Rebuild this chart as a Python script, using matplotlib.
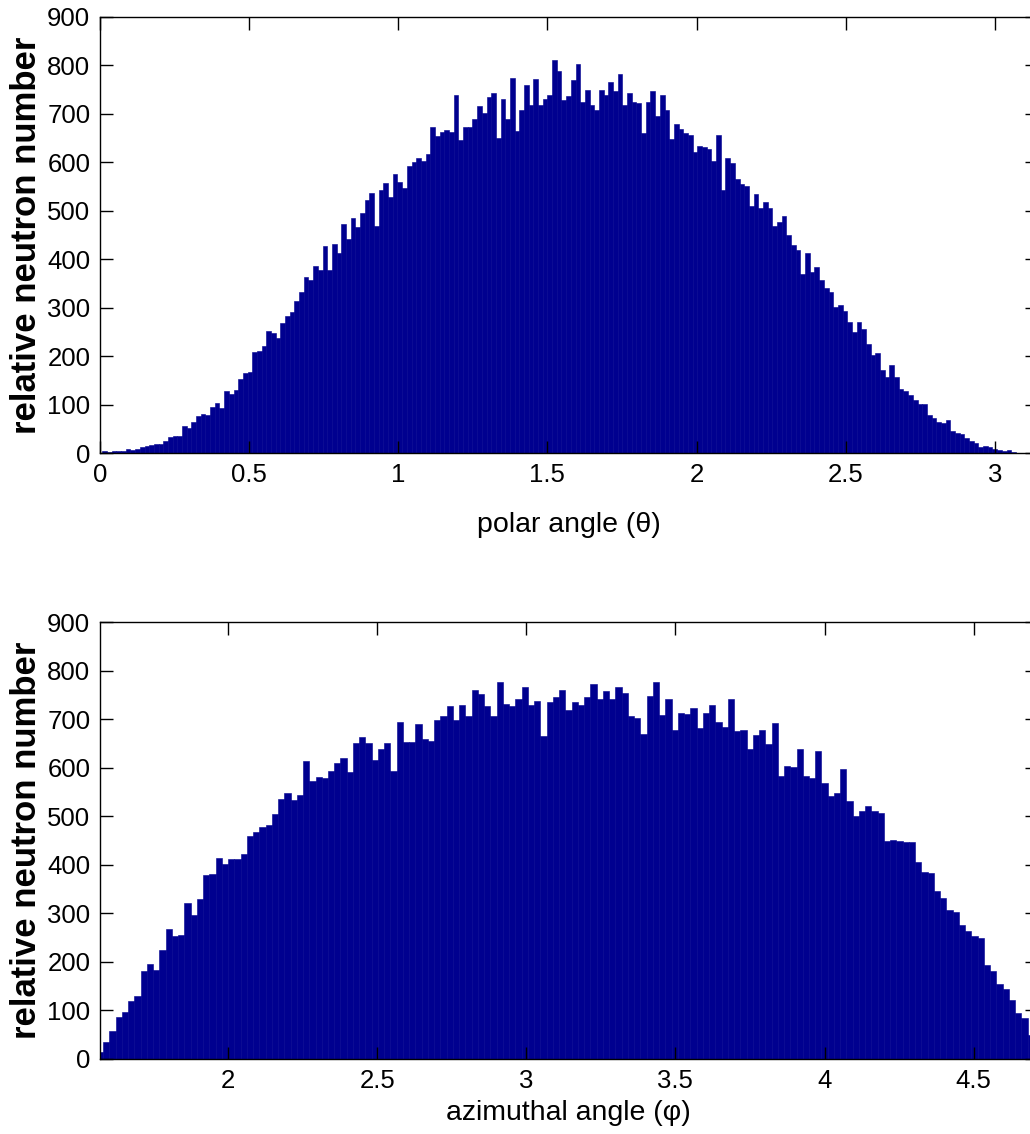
import numpy as np
import matplotlib
matplotlib.use("Agg")
import matplotlib.pyplot as plt
from matplotlib.ticker import FuncFormatter

# Histogram counts, polar angle theta: bins centred at k*pi/200, k = 0..200
theta_counts = [
    1, 4, 2, 4, 4, 5, 8, 6, 8, 12, 15, 16, 18, 18, 25, 34,
    36, 36, 56, 52, 65, 76, 81, 79, 95, 104, 92,
    127, 122, 131, 152, 165, 167, 208, 211, 220, 252, 248, 238, 268, 282, 291, 313, 332,
    363, 358, 386, 377, 427, 377, 432, 413, 473, 442, 486, 467, 496, 522, 537, 468,
    542, 557, 529, 575, 560, 548, 593, 601, 608, 602, 618, 673, 654, 662, 666, 663,
    740, 647, 673, 673, 689, 717, 702, 734, 744, 651, 730,
    690, 775, 665, 709, 759, 718, 773, 718, 730, 740, 811, 788, 728, 737, 769, 804,
    725, 750, 718, 709, 750, 738, 766, 747, 782, 718, 743, 725, 723, 661, 725, 747,
    695, 740, 709, 648, 679, 668, 661, 656, 622,
    633, 632, 628, 603, 656, 542, 609, 599, 566, 555, 551, 509, 535, 506, 518, 506,
    468, 477, 489, 449, 429, 420, 370, 412, 374, 384, 358, 341, 332, 301, 305, 293,
    270, 250, 270, 255, 226, 202, 206, 172, 157, 181, 157, 133,
    127, 119, 110, 102, 102, 78, 73, 65, 61, 69, 45, 41, 40, 31, 24, 21, 12, 14, 12,
    8, 7, 4, 7, 3,
    1, 0, 1, 0, 0,
]

# Histogram counts, azimuthal angle phi: bins centred at pi/2 + k*pi/150, k = 0..150
phi_counts = [
    14, 36, 58, 86, 96, 119, 129, 181, 196, 183, 225, 268, 253, 256, 321, 296, 330,
    378, 382, 413, 402, 411, 411, 423, 459, 468, 478, 481, 505, 535, 548, 533, 544, 613,
    572, 581, 579, 594, 610, 619, 591, 651, 663, 651, 616, 638, 651, 594, 695, 652,
    652, 689, 660, 654, 699, 706, 728, 699, 730, 706, 759, 752, 728, 706, 776, 731,
    726, 741, 767, 730, 738, 665, 735, 746, 759, 719, 735, 730, 746, 773, 742, 757,
    742, 766, 754, 707, 702, 669, 748, 776, 708, 741, 678, 713, 711, 722, 682, 713,
    730, 694, 684, 741, 675, 678, 639, 667, 677, 649, 693, 582, 603, 601, 638, 582,
    579, 635, 568, 541, 548, 597, 531, 501, 510, 522, 510, 507, 448, 452, 450, 447,
    446, 405, 385, 383, 347, 332, 307, 303, 277, 264, 253, 250, 193, 181, 154, 145,
    122, 95, 84, 49, 22,
]

theta_ticks = [0, 0.5, 1, 1.5, 2, 2.5, 3]
phi_ticks = [2, 2.5, 3, 3.5, 4, 4.5]
count_ticks = [0, 100, 200, 300, 400, 500, 600, 700, 800, 900]

BAR = "#00008F"
FONT = "Liberation Sans"

theta_w = np.pi / 200
theta_c = np.arange(len(theta_counts)) * theta_w
phi_w = np.pi / 150
phi_c = np.pi / 2 + np.arange(len(phi_counts)) * phi_w

plt.rcParams["font.family"] = [FONT, "DejaVu Sans"]

W, H = 1030, 1134
fig = plt.figure(figsize=(W / 100, H / 100), dpi=100)


def px_axes(left, top, right, bottom):
    return fig.add_axes([left / W, 1 - bottom / H, (right - left) / W, (bottom - top) / H])


fmt = FuncFormatter(lambda v, p: f"{v:g}")


def style(ax, xlim, xticks, xlabel, xpad):
    ax.set_xlim(*xlim)
    ax.set_ylim(0, 900)
    ax.set_xticks(xticks)
    ax.set_yticks(count_ticks)
    ax.xaxis.set_major_formatter(fmt)
    ax.tick_params(direction="in", length=9, width=1.0, top=True, right=True,
                   labelsize=18.5, colors="black")
    ax.tick_params(axis="y", pad=7)
    ax.tick_params(axis="x", pad=7)
    for s in ax.spines.values():
        s.set_linewidth(1.0)
        s.set_color("black")
    ax.set_xlabel(xlabel, fontsize=20.5, labelpad=xpad)
    ax.set_ylabel("relative neutron number", fontsize=25, fontweight="bold",
                  labelpad=3)


ax1 = px_axes(100, 17, 1037, 453)
ax1.bar(theta_c, theta_counts, width=theta_w, align="center",
        color=BAR, edgecolor=BAR, linewidth=0.4)
style(ax1, (0, np.pi), theta_ticks, "polar angle (\u03b8)", 18)

ax2 = px_axes(100, 622, 1037, 1059)
ax2.bar(phi_c, phi_counts, width=phi_w, align="center",
        color=BAR, edgecolor=BAR, linewidth=0.4)
style(ax2, (np.pi / 2, 3 * np.pi / 2), phi_ticks, "azimuthal angle (\u03c6)", 5)

fig.savefig("out.png", dpi=100)
